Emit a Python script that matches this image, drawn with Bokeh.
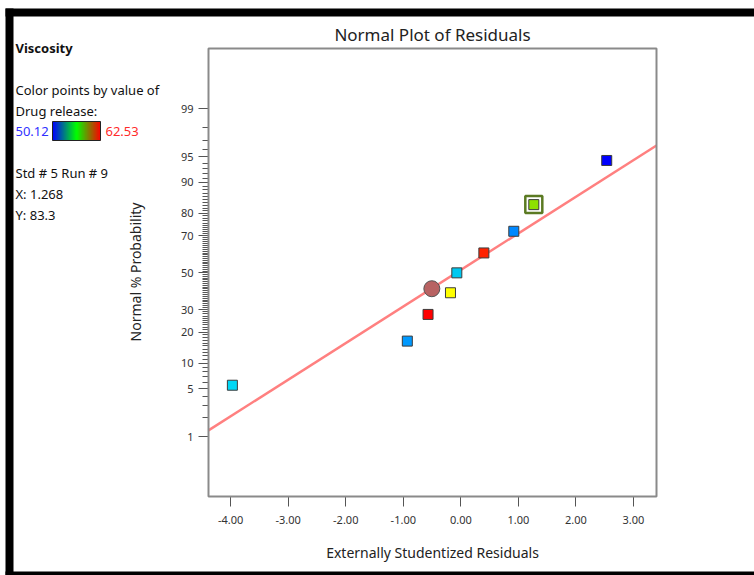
from statistics import NormalDist

from bokeh.plotting import figure
from bokeh.models import (FixedTicker, NumeralTickFormatter, Label, BoxAnnotation,
                          ColorBar, LinearColorMapper, LinearAxis)
from bokeh.embed import file_html
from bokeh.resources import INLINE

# ---------------- data ----------------
residuals = [-3.97, -0.93, -0.57, -0.18, -0.07, 0.40, 0.92, 1.268, 2.535]
normal_pct = [5.56, 16.67, 27.78, 38.89, 50.0, 61.11, 72.22, 83.33, 94.44]
point_colors = ["#00d7f5", "#0099ff", "#ff0000", "#ffff00", "#00c8f0",
                "#ff2200", "#0088ff", "#8ee000", "#0000ff"]
selected_index = 7
fit_x = [-4.385, 3.40]
fit_pct = [1.28, 96.45]
handle_x = [-0.504]
handle_pct = [41.1]
x_ticks = [-4, -3, -2, -1, 0, 1, 2, 3]
pct_major = [1, 5, 10, 20, 30, 50, 70, 80, 90, 95, 99]
pct_minor = list(range(1, 100))
release_low, release_high = 50.12, 62.53
response_name = "Viscosity"
std_no, run_no = 5, 9

FONT = "Noto Sans"
nd = NormalDist()


def probit(p):
    return round(nd.inv_cdf(p / 100.0), 6)


# ---------------- layout constants (pixels) ----------------
W, H = 754, 575
BOX_L, BOX_R, BOX_T, BOX_B = 208, 656, 48, 496
X_LO, X_HI = -4.385, 3.40          # data range shown inside the plot box
Z_LO, Z_HI = -3.17, 3.18           # probit range shown inside the plot box

xs = (BOX_R - BOX_L) / (X_HI - X_LO)
ys = (BOX_B - BOX_T) / (Z_HI - Z_LO)
x0 = X_LO - BOX_L / xs
x1 = x0 + W / xs
y0 = Z_LO - (H - BOX_B) / ys
y1 = y0 + H / ys

p = figure(width=W, height=H, x_range=(x0, x1), y_range=(y0, y1),
           output_backend="svg", toolbar_location=None, min_border=0,
           x_axis_location=None, y_axis_location=None)
p.xgrid.visible = False
p.ygrid.visible = False
p.outline_line_color = None
p.background_fill_color = "white"
p.border_fill_color = "white"

# plot box
p.add_layout(BoxAnnotation(left=X_LO, right=X_HI, bottom=Z_LO, top=Z_HI,
                           fill_alpha=0, line_color="#8a8a8a", line_alpha=1,
                           line_width=2))

xa = LinearAxis(fixed_location=Z_LO)
xa.ticker = FixedTicker(ticks=x_ticks)
xa.formatter = NumeralTickFormatter(format="0.00")
xa.major_tick_out = 10
xa.major_label_standoff = 9
xa.minor_tick_line_color = None

ya = LinearAxis(fixed_location=X_LO)
ya.ticker = FixedTicker(ticks=[probit(v) for v in pct_major],
                        minor_ticks=[probit(v) for v in pct_minor])
ya.major_label_overrides = {probit(v): str(v) for v in pct_major}
ya.major_tick_out = 10
ya.minor_tick_out = 6
ya.minor_tick_in = 0
ya.minor_tick_line_color = "#555555"

for ax in (xa, ya):
    ax.axis_line_color = None
    ax.major_tick_in = 0
    ax.major_tick_line_color = "#555555"
    ax.major_label_text_font = FONT
    ax.major_label_text_font_size = "11px"
    ax.major_label_text_color = "#333333"
p.add_layout(xa, "below")
p.add_layout(ya, "left")

# ---------------- glyphs ----------------
p.line(fit_x, [probit(v) for v in fit_pct], line_color="#ff8080", line_width=2.5)
p.scatter(handle_x, [probit(v) for v in handle_pct], marker="circle", size=16,
          fill_color="#b86262", line_color="#555555", line_width=1)
p.scatter([residuals[selected_index]], [probit(normal_pct[selected_index])],
          marker="square", size=17, fill_color="white", line_color="#5b7a22",
          line_width=2.5)
p.scatter(residuals, [probit(v) for v in normal_pct], marker="square", size=10,
          fill_color=point_colors, line_color="#3c3c3c", line_width=1)


# ---------------- texts ----------------
def add_label(text, px, py, color="#111111", bold=False, size="13px", align="left",
              angle=0):
    p.add_layout(Label(x=px, y=H - py, x_units="screen", y_units="screen", text=text,
                       text_font=FONT, text_font_size=size,
                       text_font_style="bold" if bold else "normal",
                       text_color=color, text_baseline="middle", text_align=align,
                       angle=angle, angle_units="deg"))


add_label("Normal Plot of Residuals", (BOX_L + BOX_R) / 2, 34, color="#222222",
          size="17px", align="center")
add_label("Externally Studentized Residuals", (BOX_L + BOX_R) / 2, 552,
          color="#222222", size="14px", align="center")
add_label("Normal % Probability", 135, (BOX_T + BOX_B) / 2 - 0.5, color="#222222",
          size="14px", align="center", angle=90)
add_label(response_name, 15, 47, bold=True)
add_label("Color points by value of", 15, 89)
add_label("Drug release:", 15, 110)
add_label(f"{release_low:.2f}", 15, 131, color="#3030ff")
add_label(f"{release_high:.2f}", 105, 131, color="#ff2a2a")
add_label(f"Std # {std_no} Run # {run_no}", 15, 172)
add_label(f"X: {residuals[selected_index]:.3f}", 15, 193)
add_label(f"Y: {normal_pct[selected_index]:.1f}", 15, 214)

# gradient bar blue -> green -> red
palette = []
for i in range(256):
    t = i / 255.0
    if t < 0.5:
        u = t / 0.5
        r, g, b = 0, int(255 * u), int(255 * (1 - u))
    else:
        u = (t - 0.5) / 0.5
        r, g, b = int(255 * u), int(255 * (1 - u)), 0
    palette.append("#%02x%02x%02x" % (r, g, b))
mapper = LinearColorMapper(palette=palette, low=release_low, high=release_high)
cb = ColorBar(color_mapper=mapper, orientation="horizontal", location=(52, H - 140),
              width=48, height=19, padding=0, bar_line_color="#222222",
              major_tick_line_color=None, minor_tick_line_color=None,
              major_label_text_font_size="0px", label_standoff=0,
              border_line_color=None, background_fill_alpha=0,
              ticker=FixedTicker(ticks=[]))
p.add_layout(cb, "center")

# black frame bars
for l, r, b, t in [(5, W, H - 16, H - 8), (5, 13, 0, H - 8), (5, W, 0, 4)]:
    p.add_layout(BoxAnnotation(left=l, right=r, bottom=b, top=t,
                               left_units="screen", right_units="screen",
                               bottom_units="screen", top_units="screen",
                               fill_color="black", fill_alpha=1, line_color=None))

open("out.html", "w").write(file_html(p, INLINE))
